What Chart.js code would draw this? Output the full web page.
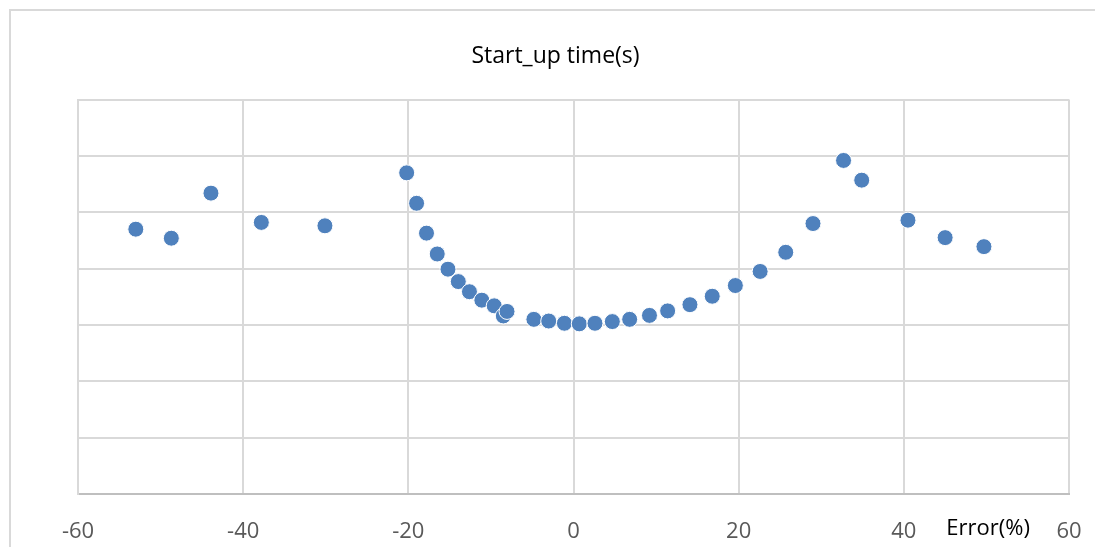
<!DOCTYPE html>
<html>
<head>
<meta charset="utf-8">
<script src="https://cdn.jsdelivr.net/npm/chart.js@4"></script>
<style>
  html, body { margin: 0; padding: 0; background: #fff; }
  #wrap { position: relative; width: 1095px; height: 547px; overflow: hidden; }
  #frame { position: absolute; left: 9px; top: 9px; width: 1200px; height: 700px; border: 2px solid #d9d9d9; box-sizing: border-box; }
  canvas { position: absolute; left: 0; top: 0; }
</style>
</head>
<body>
<div id="wrap">
  <div id="frame"></div>
  <canvas id="c" width="1095" height="547"></canvas>
</div>
<script>
const chartTitle = "Start_up time(s)";
const xAxisTitle = "Error(%)";
const xTicks = [-60, -40, -20, 0, 20, 40, 60];
const errorPct = [-53.0, -48.7, -43.9, -37.8, -30.1, -20.2, -19.0, -17.8, -16.5, -15.2, -13.95, -12.6, -11.1, -9.6, -8.5, -8.05, -4.8, -3.0, -1.1, 0.7, 2.6, 4.7, 6.8, 9.2, 11.4, 14.1, 16.8, 19.6, 22.6, 25.7, 29.0, 32.7, 34.9, 40.5, 45.0, 49.7];
const startupTime = [4.70, 4.54, 5.34, 4.82, 4.76, 5.70, 5.16, 4.63, 4.26, 3.99, 3.77, 3.59, 3.44, 3.34, 3.16, 3.24, 3.10, 3.07, 3.03, 3.02, 3.03, 3.06, 3.10, 3.17, 3.25, 3.36, 3.51, 3.70, 3.95, 4.29, 4.80, 5.92, 5.57, 4.86, 4.55, 4.39];

const points = errorPct.map((x, i) => ({ x: x, y: startupTime[i] }));

const axisTitlePlugin = {
  id: 'axisTitle',
  afterDraw(chart) {
    const ctx = chart.ctx;
    const xs = chart.scales.x;
    ctx.save();
    ctx.font = '22px "Open Sans", sans-serif';
    ctx.fillStyle = '#000000';
    ctx.textAlign = 'center';
    ctx.textBaseline = 'middle';
    ctx.fillText(xAxisTitle, xs.getPixelForValue(50.2), 529);
    ctx.restore();
  }
};

new Chart(document.getElementById('c'), {
  type: 'scatter',
  data: {
    datasets: [{
      data: points,
      backgroundColor: '#4f81bd',
      borderColor: '#ffffff',
      borderWidth: 1,
      pointRadius: 8,
      pointHoverRadius: 8
    }]
  },
  options: {
    responsive: false,
    animation: false,
    devicePixelRatio: 1,
    layout: { padding: { left: 42, right: 26, top: 0, bottom: 0 } },
    plugins: {
      legend: { display: false },
      tooltip: { enabled: false },
      title: {
        display: true,
        text: chartTitle,
        color: '#000000',
        font: { family: '"Open Sans", sans-serif', size: 23, weight: 'normal' },
        padding: { top: 43, bottom: 29 }
      }
    },
    scales: {
      x: {
        type: 'linear',
        min: -60,
        max: 60,
        afterBuildTicks(scale) { scale.ticks = xTicks.map(v => ({ value: v })); },
        afterFit(scale) { scale.height = 53; scale.paddingLeft = 0; scale.paddingRight = 0; },
        ticks: {
          color: '#595959',
          font: { family: '"Open Sans", sans-serif', size: 22 },
          padding: 25,
          maxRotation: 0
        },
        grid: { color: '#d9d9d9', lineWidth: 2, drawTicks: false },
        border: { color: '#bfbfbf', width: 2 }
      },
      y: {
        type: 'linear',
        min: 0,
        max: 7,
        afterFit(scale) { scale.width = 36; scale.paddingTop = 0; scale.paddingBottom = 0; },
        ticks: { display: false, stepSize: 1 },
        grid: { color: '#d9d9d9', lineWidth: 2, drawTicks: false },
        border: { color: '#d9d9d9', width: 2 }
      }
    }
  },
  plugins: [axisTitlePlugin]
});
</script>
</body>
</html>
